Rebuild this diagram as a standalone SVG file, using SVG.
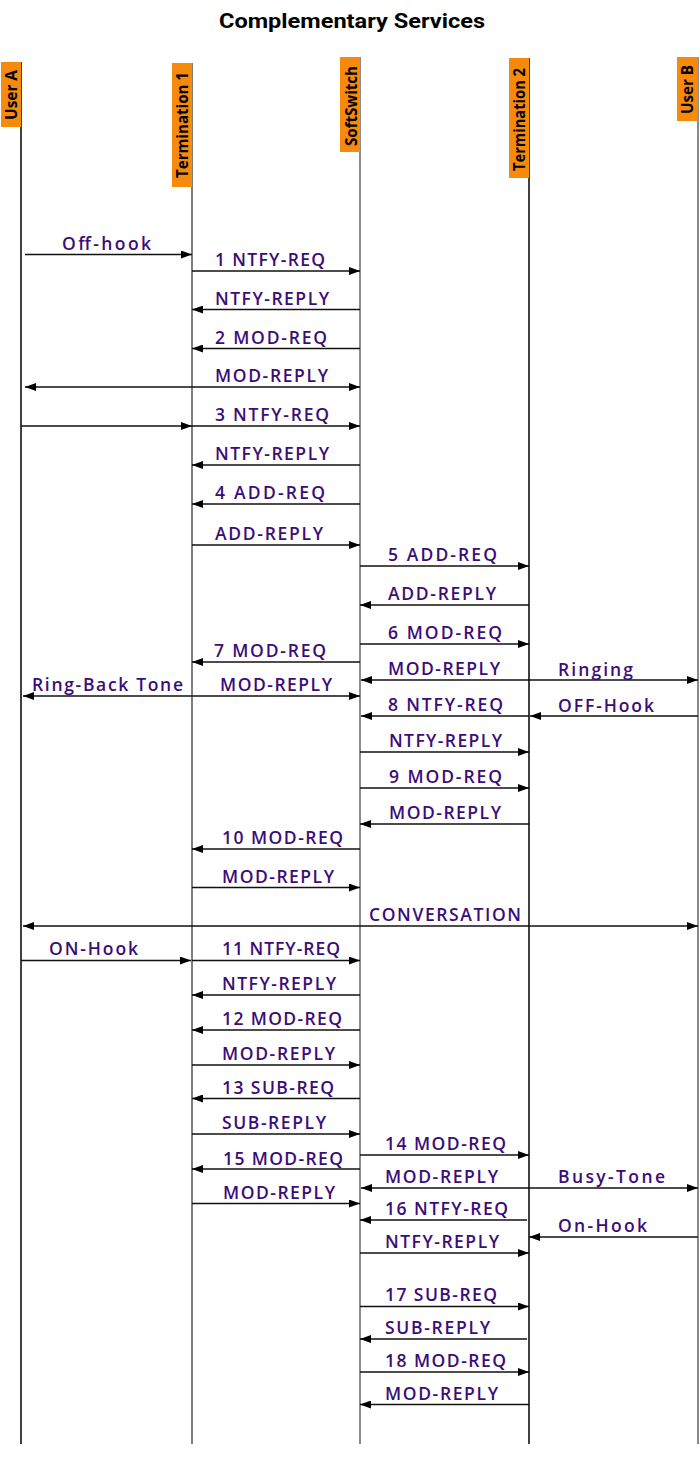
<svg xmlns="http://www.w3.org/2000/svg" width="700" height="1479" viewBox="0 0 700 1479">
<defs>
<marker id="ah" viewBox="0 0 11 8" refX="11" refY="4" markerWidth="11" markerHeight="8" markerUnits="userSpaceOnUse" orient="auto-start-reverse">
<path d="M0,0 L11,4 L0,8 z" fill="#000"/>
</marker>
<style>
.box{fill:#f7890b}
.bt{font-family:"Open Sans","Liberation Sans",sans-serif;font-weight:700;font-size:16px;fill:#000}
.life{stroke-width:1.5;fill:none}
.m{stroke:#111;stroke-width:1.3;fill:none;marker-end:url(#ah)}
.d{stroke:#111;stroke-width:1.3;fill:none;marker-end:url(#ah);marker-start:url(#ah)}
.l{font-family:"Open Sans","Liberation Sans",sans-serif;font-weight:600;font-size:17.5px;fill:#3b0d78}
.title{font-family:Roboto,"Liberation Sans",sans-serif;font-weight:700;font-size:21px;fill:#000}
</style>
</defs>
<rect width="700" height="1479" fill="#fff"/>
<text class="title" x="219" y="28" textLength="266" lengthAdjust="spacingAndGlyphs">Complementary Services</text>

<g id="user-a">
<line class="life" x1="21" y1="62" x2="21" y2="1444" stroke="#000"/>
<rect class="box" x="1" y="62" width="20" height="65"/>
<text class="bt" transform="translate(17,120) rotate(-90)" textLength="50" lengthAdjust="spacingAndGlyphs">User A</text>
</g>
<g id="termination-1">
<line class="life" x1="192" y1="63" x2="192" y2="1444" stroke="#555"/>
<rect class="box" x="172" y="63" width="20" height="124"/>
<text class="bt" transform="translate(188,178) rotate(-90)" textLength="106" lengthAdjust="spacingAndGlyphs">Termination 1</text>
</g>
<g id="softswitch">
<line class="life" x1="360" y1="57" x2="360" y2="1444" stroke="#666"/>
<rect class="box" x="340" y="57" width="20" height="95"/>
<text class="bt" transform="translate(357,146) rotate(-90)" textLength="80" lengthAdjust="spacingAndGlyphs">SoftSwitch</text>
</g>
<g id="termination-2">
<line class="life" x1="529" y1="58" x2="529" y2="1444" stroke="#000"/>
<rect class="box" x="509" y="58" width="20" height="120"/>
<text class="bt" transform="translate(525,171) rotate(-90)" textLength="103" lengthAdjust="spacingAndGlyphs">Termination 2</text>
</g>
<g id="user-b">
<line class="life" x1="698" y1="57" x2="698" y2="1444" stroke="#666"/>
<rect class="box" x="677" y="57" width="21" height="64"/>
<text class="bt" transform="translate(693,114) rotate(-90)" textLength="49" lengthAdjust="spacingAndGlyphs">User B</text>
</g>

<g id="connectors">
<line class="m" x1="25" y1="254.5" x2="192" y2="254.5"/>
<text class="l" x="62" y="250" textLength="89">Off-hook</text>
<line class="m" x1="192" y1="271" x2="360" y2="271"/>
<text class="l" x="215" y="266" textLength="110">1 NTFY-REQ</text>
<line class="m" x1="360" y1="309.5" x2="192" y2="309.5"/>
<text class="l" x="215" y="304.5" textLength="114">NTFY-REPLY</text>
<line class="m" x1="360" y1="348.5" x2="192" y2="348.5"/>
<text class="l" x="215" y="343.5" textLength="112">2 MOD-REQ</text>
<line class="d" x1="25" y1="387" x2="360" y2="387"/>
<text class="l" x="215" y="382" textLength="113">MOD-REPLY</text>
<line class="m" x1="21" y1="426" x2="192" y2="426"/>
<line class="m" x1="192" y1="426" x2="360" y2="426"/>
<text class="l" x="215" y="421" textLength="114">3 NTFY-REQ</text>
<line class="m" x1="360" y1="465" x2="192" y2="465"/>
<text class="l" x="215" y="460" textLength="114">NTFY-REPLY</text>
<line class="m" x1="360" y1="504" x2="192" y2="504"/>
<text class="l" x="215" y="499" textLength="110">4 ADD-REQ</text>
<line class="m" x1="192" y1="545" x2="360" y2="545"/>
<text class="l" x="215" y="540" textLength="108">ADD-REPLY</text>
<line class="m" x1="360" y1="566" x2="529" y2="566"/>
<text class="l" x="388" y="561" textLength="109">5 ADD-REQ</text>
<line class="m" x1="529" y1="605" x2="360" y2="605"/>
<text class="l" x="388" y="600" textLength="108">ADD-REPLY</text>
<line class="m" x1="360" y1="644" x2="529" y2="644"/>
<text class="l" x="388" y="639" textLength="114">6 MOD-REQ</text>
<line class="m" x1="360" y1="662" x2="192" y2="662"/>
<text class="l" x="214" y="657" textLength="112">7 MOD-REQ</text>
<line class="d" x1="361" y1="680" x2="698" y2="680"/>
<text class="l" x="388" y="675" textLength="112">MOD-REPLY</text>
<text class="l" x="558" y="676" textLength="75">Ringing</text>
<line class="d" x1="23" y1="696" x2="360" y2="696"/>
<text class="l" x="32" y="691" textLength="151">Ring-Back Tone</text>
<text class="l" x="220" y="691" textLength="112">MOD-REPLY</text>
<line class="m" x1="529" y1="716" x2="361" y2="716"/>
<text class="l" x="388" y="711" textLength="115">8 NTFY-REQ</text>
<line class="m" x1="698" y1="716" x2="530" y2="716"/>
<text class="l" x="558" y="712" textLength="96">OFF-Hook</text>
<line class="m" x1="360" y1="752" x2="529" y2="752"/>
<text class="l" x="389" y="747" textLength="113">NTFY-REPLY</text>
<line class="m" x1="360" y1="788" x2="529" y2="788"/>
<text class="l" x="389" y="783" textLength="113">9 MOD-REQ</text>
<line class="m" x1="529" y1="824" x2="360" y2="824"/>
<text class="l" x="389" y="819" textLength="112">MOD-REPLY</text>
<line class="m" x1="360" y1="849" x2="192" y2="849"/>
<text class="l" x="222" y="844" textLength="121">10 MOD-REQ</text>
<line class="m" x1="192" y1="887.5" x2="360" y2="887.5"/>
<text class="l" x="222" y="882.5" textLength="112">MOD-REPLY</text>
<line class="d" x1="23" y1="926" x2="698" y2="926"/>
<text class="l" x="369" y="921" textLength="152">CONVERSATION</text>
<line class="m" x1="21" y1="960.5" x2="191" y2="960.5"/>
<text class="l" x="49" y="955" textLength="89">ON-Hook</text>
<line class="m" x1="192" y1="960.5" x2="360" y2="960.5"/>
<text class="l" x="222" y="955" textLength="118">11 NTFY-REQ</text>
<line class="m" x1="360" y1="995" x2="192" y2="995"/>
<text class="l" x="222" y="990" textLength="114">NTFY-REPLY</text>
<line class="m" x1="360" y1="1030" x2="192" y2="1030"/>
<text class="l" x="222" y="1025" textLength="120">12 MOD-REQ</text>
<line class="m" x1="192" y1="1065" x2="360" y2="1065"/>
<text class="l" x="222" y="1060" textLength="113">MOD-REPLY</text>
<line class="m" x1="360" y1="1098.5" x2="192" y2="1098.5"/>
<text class="l" x="222" y="1094" textLength="112">13 SUB-REQ</text>
<line class="m" x1="192" y1="1134" x2="360" y2="1134"/>
<text class="l" x="222" y="1129" textLength="104">SUB-REPLY</text>
<line class="m" x1="360" y1="1155" x2="529" y2="1155"/>
<text class="l" x="385" y="1150" textLength="121">14 MOD-REQ</text>
<line class="m" x1="360" y1="1169" x2="192" y2="1169"/>
<text class="l" x="223" y="1165" textLength="120">15 MOD-REQ</text>
<line class="d" x1="361" y1="1188" x2="698" y2="1188"/>
<text class="l" x="385" y="1183" textLength="113">MOD-REPLY</text>
<text class="l" x="558" y="1183" textLength="107">Busy-Tone</text>
<line class="m" x1="192" y1="1203.5" x2="360" y2="1203.5"/>
<text class="l" x="223" y="1199" textLength="112">MOD-REPLY</text>
<line class="m" x1="527" y1="1220" x2="360" y2="1220"/>
<text class="l" x="385" y="1215" textLength="123">16 NTFY-REQ</text>
<line class="m" x1="698" y1="1237" x2="529" y2="1237"/>
<text class="l" x="558" y="1232" textLength="89">On-Hook</text>
<line class="m" x1="360" y1="1253" x2="529" y2="1253"/>
<text class="l" x="385" y="1248" textLength="114">NTFY-REPLY</text>
<line class="m" x1="360" y1="1306.5" x2="529" y2="1306.5"/>
<text class="l" x="385" y="1301" textLength="112">17 SUB-REQ</text>
<line class="m" x1="527" y1="1339" x2="360" y2="1339"/>
<text class="l" x="385" y="1334" textLength="105">SUB-REPLY</text>
<line class="m" x1="360" y1="1372" x2="529" y2="1372"/>
<text class="l" x="385" y="1367" textLength="121">18 MOD-REQ</text>
<line class="m" x1="529" y1="1404.5" x2="360" y2="1404.5"/>
<text class="l" x="385" y="1399.5" textLength="113">MOD-REPLY</text>
</g>
</svg>
